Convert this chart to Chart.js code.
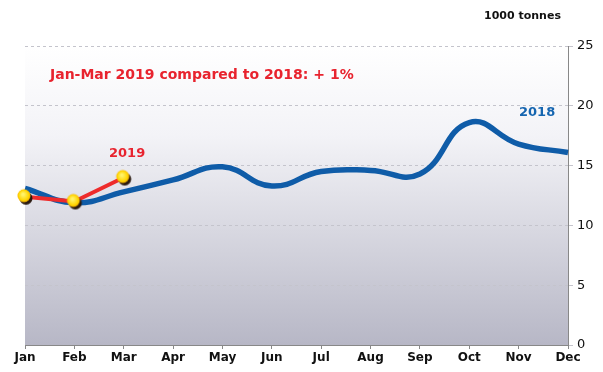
<!DOCTYPE html>
<html>
<head>
<meta charset="utf-8">
<script src="https://cdn.jsdelivr.net/npm/chart.js@4"></script>
<style>
  html, body { margin: 0; padding: 0; background: #fff; }
  #wrap { width: 603px; height: 372px; }
</style>
</head>
<body>
<div id="wrap"><canvas id="grafico"></canvas></div>
<script>
const months = ['Jan', 'Feb', 'Mar', 'Apr', 'May', 'Jun', 'Jul', 'Aug', 'Sep', 'Oct', 'Nov', 'Dec'];
const values2018 = [13.1, 11.9, 12.8, 13.8, 14.9, 13.3, 14.5, 14.6, 14.3, 18.6, 16.8, 16.1];
const values2019 = [12.4, 12.0, 14.0];
const yTicks = [0, 5, 10, 15, 20, 25];

// marcador amarillo con sombra oscura
function makeMarker() {
    const c = document.createElement('canvas');
    c.width = 18; c.height = 18;
    const g = c.getContext('2d');
    g.fillStyle = '#2a1a10';
    g.beginPath(); g.arc(10, 10.5, 6.5, 0, Math.PI * 2); g.fill();
    const rg = g.createRadialGradient(7, 6.5, 1, 8, 8, 7);
    rg.addColorStop(0, '#fff36a');
    rg.addColorStop(0.7, '#ffd400');
    rg.addColorStop(1, '#f0a000');
    g.fillStyle = rg;
    g.beginPath(); g.arc(8, 8, 6.5, 0, Math.PI * 2); g.fill();
    return c;
}

const fondo = {
    id: 'fondo',
    beforeDraw(chart) {
        const { ctx, chartArea: a } = chart;
        const grad = ctx.createLinearGradient(0, a.top, 0, a.bottom);
        grad.addColorStop(0, '#ffffff');
        grad.addColorStop(0.3, '#f3f3f7');
        grad.addColorStop(1, '#b7b7c6');
        ctx.save();
        ctx.fillStyle = grad;
        ctx.fillRect(a.left, a.top, a.right - a.left, a.bottom - a.top);
        ctx.restore();
    },
    afterDraw(chart) {
        const { ctx } = chart;
        ctx.save();
        ctx.textBaseline = 'middle';
        ctx.font = 'bold 11px "DejaVu Sans"';
        ctx.fillStyle = '#111';
        ctx.fillText('1000 tonnes', 484, 16);
        ctx.font = 'bold 14px "DejaVu Sans"';
        ctx.fillStyle = '#e8232e';
        ctx.fillText('Jan-Mar 2019 compared to 2018: + 1%', 50, 75);
        ctx.font = 'bold 13px "DejaVu Sans"';
        ctx.fillText('2019', 109, 154);
        ctx.fillStyle = '#1565b0';
        ctx.fillText('2018', 519, 113);
        ctx.restore();
    }
};

new Chart(document.getElementById('grafico').getContext('2d'), {
    type: 'line',
    data: {
        labels: months,
        datasets: [{
            label: '2019',
            data: values2019,
            borderColor: '#ee2b2b',
            borderWidth: 4,
            tension: 0,
            pointStyle: makeMarker(),
            pointRadius: 8
        }, {
            label: '2018',
            data: values2018,
            borderColor: '#0f5ca8',
            borderWidth: 5.5,
            tension: 0.45,
            pointRadius: 0
        }]
    },
    options: {
        responsive: true,
        maintainAspectRatio: false,
        animation: false,
        layout: { padding: { left: 25, top: 46, right: 0, bottom: 0 } },
        plugins: { legend: { display: false }, tooltip: { enabled: false } },
        scales: {
            x: {
                offset: false,
                afterFit(s) { s.height = 27; },
                grid: { drawOnChartArea: false, color: '#888', tickLength: 4 },
                border: { color: '#888' },
                ticks: {
                    color: '#111', padding: 2, maxRotation: 0,
                    font: { family: 'DejaVu Sans', weight: 'bold', size: 12 }
                }
            },
            y: {
                position: 'right',
                min: 0, max: 25,
                afterFit(s) { s.width = 35; },
                afterBuildTicks(s) { s.ticks = yTicks.map(v => ({ value: v })); },
                grid: { color: '#c4c4cc', tickLength: 5 },
                border: { color: '#888', dash: [3, 3] },
                ticks: {
                    color: '#111', padding: 4,
                    font: { family: 'DejaVu Sans', size: 13 }
                }
            }
        }
    },
    plugins: [fondo]
});
</script>
</body>
</html>
